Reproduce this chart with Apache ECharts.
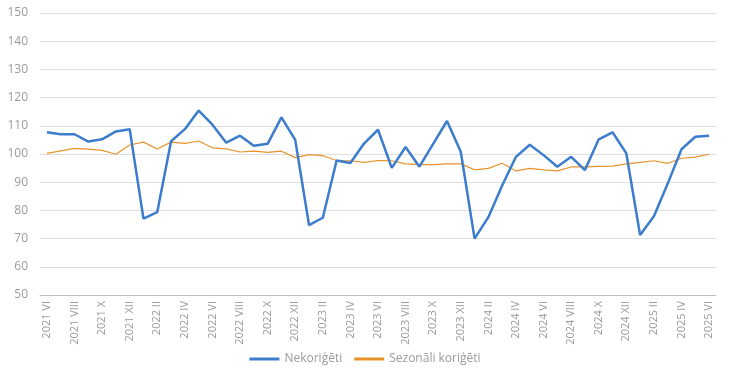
<!DOCTYPE html>
<html>
<head>
<meta charset="utf-8">
<script src="https://cdn.jsdelivr.net/npm/echarts@6/dist/echarts.min.js"></script>
<style>
    html, body { margin: 0; padding: 0; background: #fff; }
    #chart { width: 730px; height: 377px; }
</style>
</head>
<body>
<div id="chart"></div>
<script>
// menesi no 2021 VI lidz 2025 VI
var romans = ['I', 'II', 'III', 'IV', 'V', 'VI', 'VII', 'VIII', 'IX', 'X', 'XI', 'XII'];
var months = (function() {
    var res = [];
    var y = 2021, m = 5;
    for (var i = 0; i < 49; i++) {
        res.push(y + ' ' + romans[m]);
        m++;
        if (m > 11) { m = 0; y++; }
    }
    return res;
})();

var nekorigeti = [
    107.7, 107.0, 107.0, 104.4, 105.2, 108.0, 108.8, 77.1, 79.4, 104.5,
    108.8, 115.4, 110.4, 104.0, 106.5, 102.9, 103.6, 113.0, 105.0, 74.8,
    77.4, 97.7, 96.8, 103.8, 108.6, 95.1, 102.5, 95.5, 103.6, 111.7,
    100.8, 70.0, 77.6, 88.8, 99.0, 103.3, 99.6, 95.5, 99.0, 94.3,
    105.2, 107.7, 100.2, 71.3, 77.9, 89.5, 101.7, 106.1, 106.5
];

var sezonaliKorigeti = [
    100.2, 101.1, 102.0, 101.7, 101.3, 99.9, 103.2, 104.2, 101.8, 104.2,
    103.8, 104.6, 102.2, 101.8, 100.7, 101.0, 100.6, 101.0, 98.7, 99.8,
    99.4, 97.7, 97.6, 97.0, 97.7, 97.6, 96.5, 96.2, 96.2, 96.5,
    96.5, 94.4, 94.9, 96.7, 94.0, 94.9, 94.4, 94.0, 95.4, 95.4,
    95.6, 95.7, 96.5, 97.0, 97.6, 96.7, 98.5, 98.9, 99.9
];

var textColor = '#9a9a9a';
var fontFamily = '"Open Sans", "DejaVu Sans", sans-serif';

var chart = echarts.init(document.getElementById('chart'));
var option = {
    animation: false,
    grid: {
        left: 40,
        right: 14,
        top: 13,
        bottom: 82
    },
    legend: {
        bottom: 7,
        left: 'center',
        itemWidth: 30,
        itemHeight: 3,
        itemGap: 12,
        icon: 'rect',
        textStyle: {
            color: textColor,
            fontSize: 12,
            fontFamily: fontFamily
        },
        data: ['Nekoriģēti', 'Sezonāli koriģēti']
    },
    xAxis: [
        {
            type: 'category',
            boundaryGap: true,
            data: months,
            axisLine: {
                lineStyle: { color: '#bfbfbf', width: 1 }
            },
            axisTick: {
                interval: 2,
                length: 4,
                lineStyle: { color: '#bfbfbf' }
            },
            axisLabel: {
                interval: 1,
                rotate: 90,
                margin: 6,
                color: textColor,
                fontSize: 11,
                fontFamily: fontFamily
            }
        }
    ],
    yAxis: [
        {
            type: 'value',
            min: 50,
            max: 150,
            interval: 10,
            axisLine: { show: false },
            axisTick: { show: false },
            axisLabel: {
                margin: 12,
                color: textColor,
                fontSize: 12,
                fontFamily: fontFamily
            },
            splitLine: {
                lineStyle: { color: '#dedede', width: 1 }
            }
        }
    ],
    series: [
        {
            name: 'Nekoriģēti',
            type: 'line',
            data: nekorigeti,
            symbol: 'none',
            itemStyle: { color: '#3b7dcc' },
            lineStyle: { color: '#3b7dcc', width: 2.5 },
            z: 3
        },
        {
            name: 'Sezonāli koriģēti',
            type: 'line',
            data: sezonaliKorigeti,
            symbol: 'none',
            itemStyle: { color: '#e8922c' },
            lineStyle: { color: '#e8922c', width: 1.2 },
            z: 2
        }
    ]
};
chart.setOption(option);
</script>
</body>
</html>
